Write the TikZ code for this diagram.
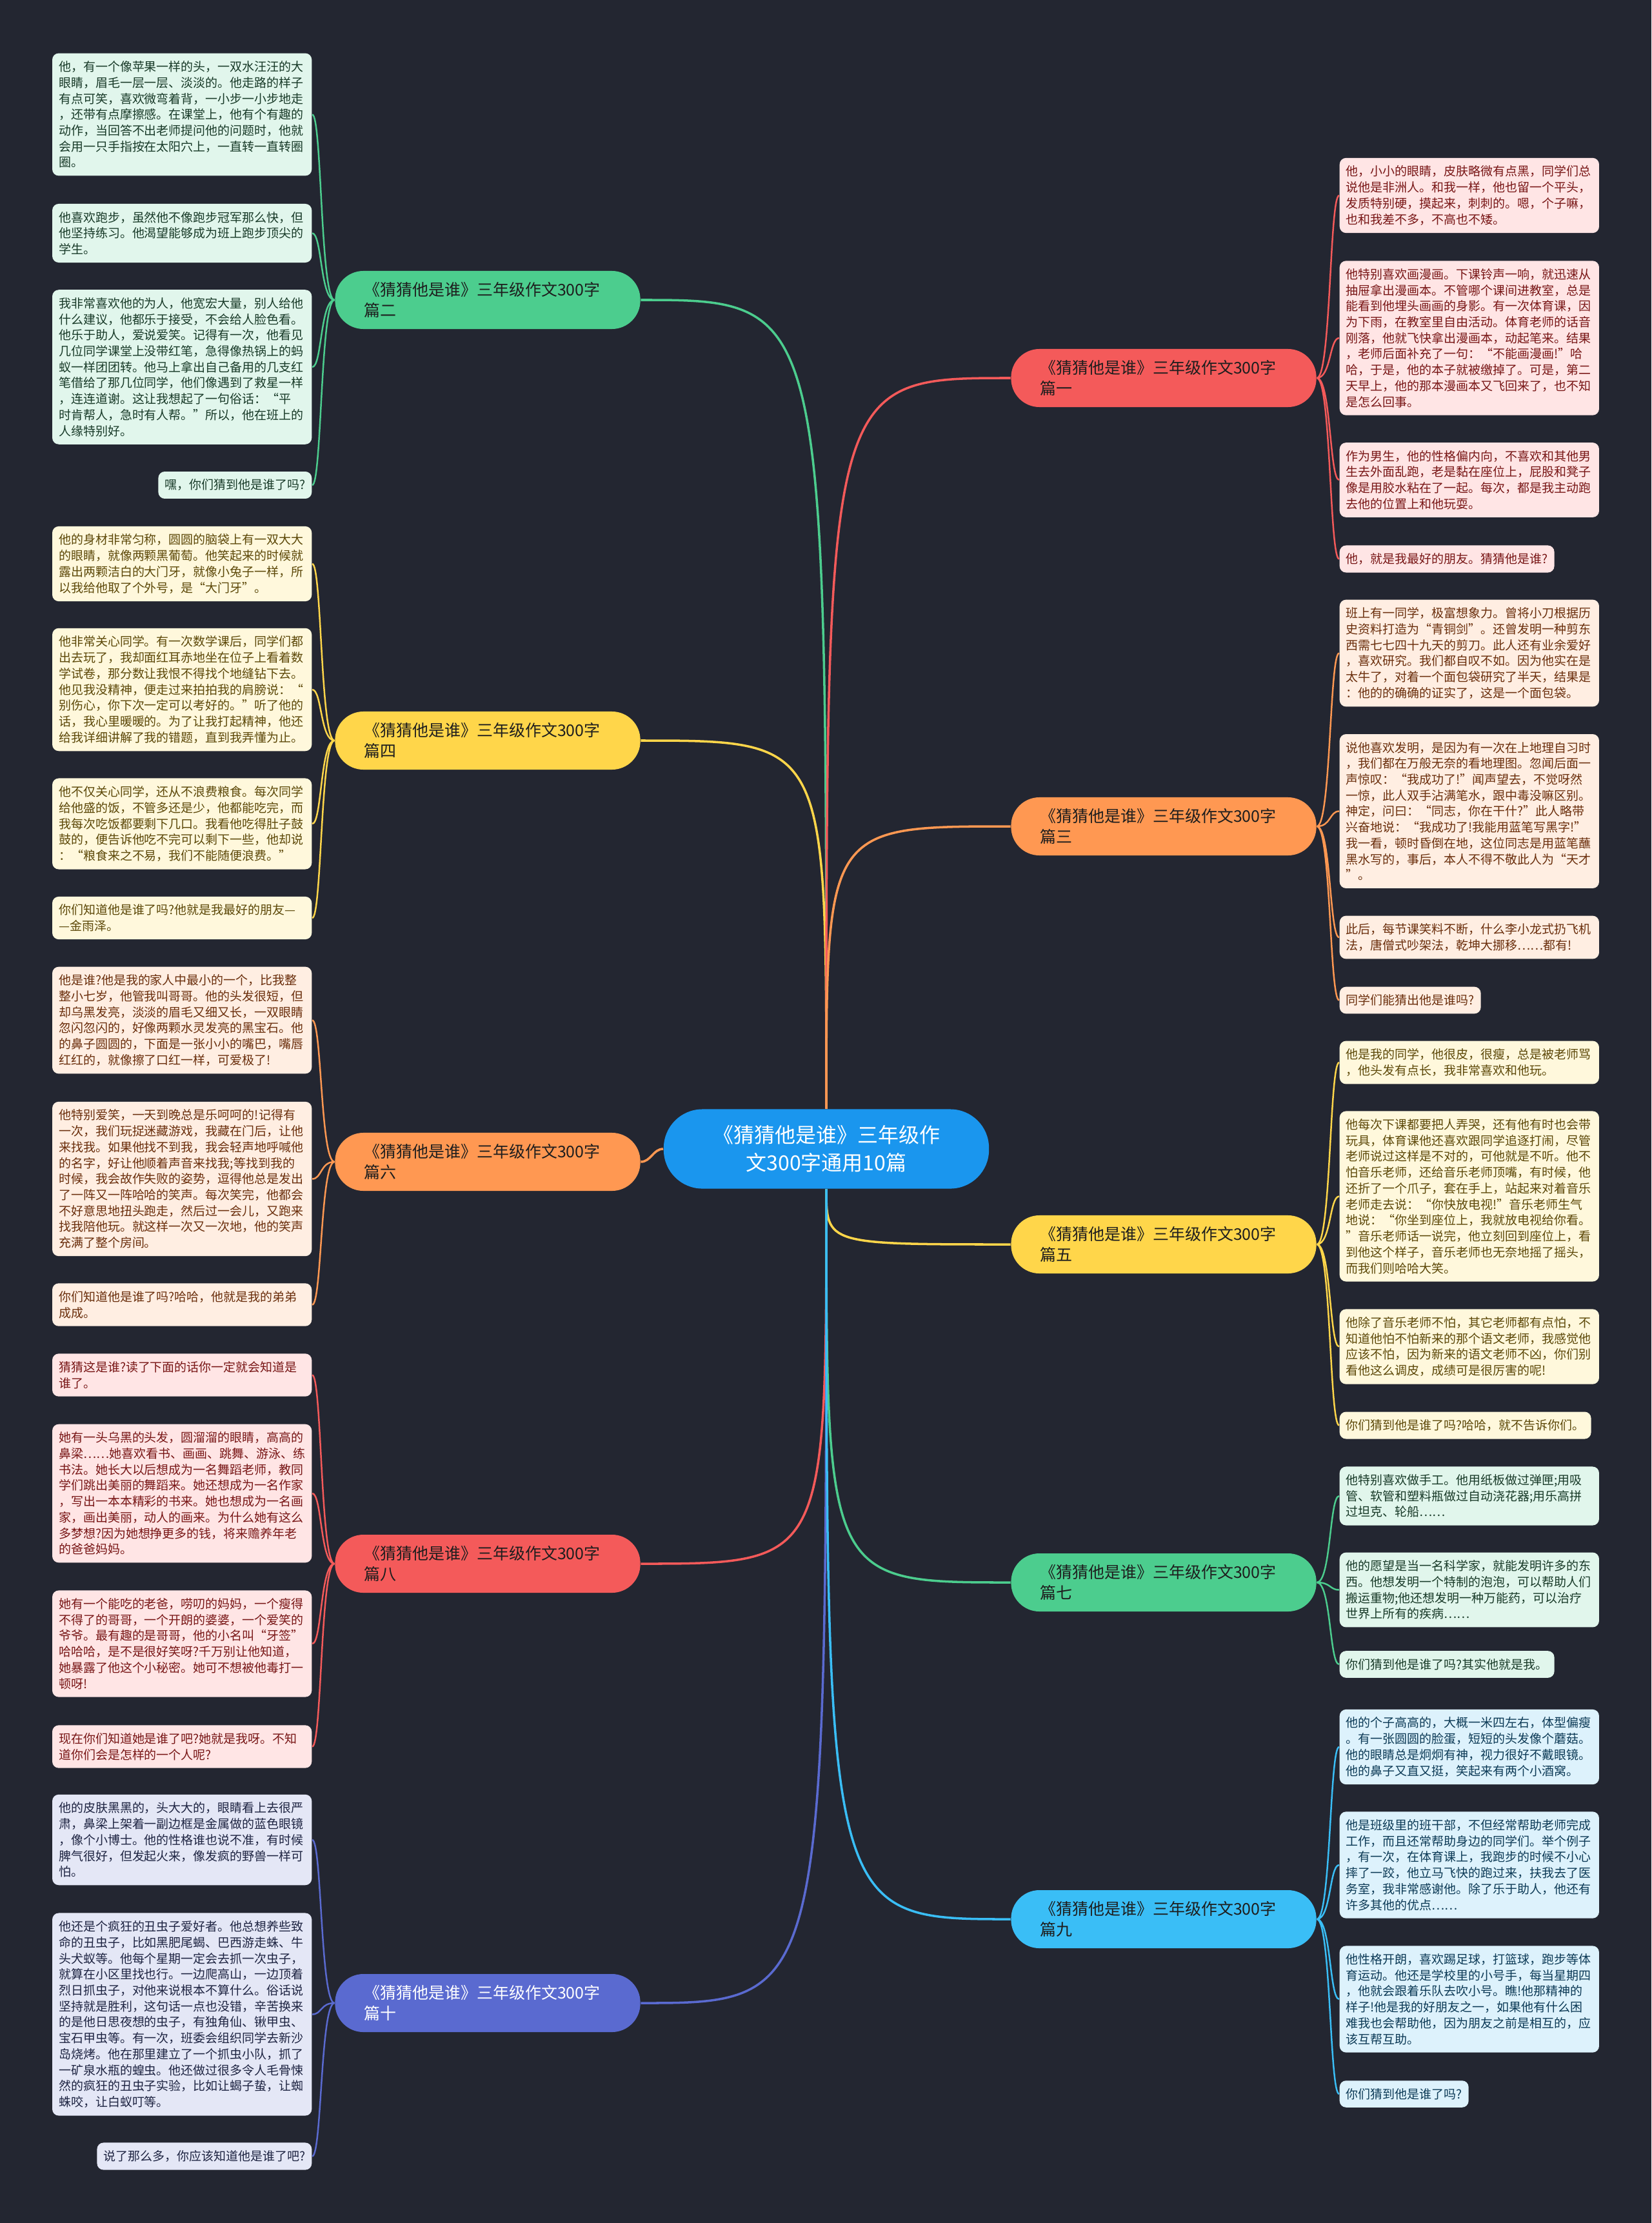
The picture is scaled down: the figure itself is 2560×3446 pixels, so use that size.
\documentclass[tikz,border=0pt]{standalone}
\usepackage{xcolor}
\usepackage{fontspec}
\newfontfamily\cjk{Noto Sans CJK SC}
\usepackage{tikz}

\definecolor{bgdark}{RGB}{35,38,49}
\definecolor{croot}{RGB}{26,150,238}
\definecolor{topictext}{RGB}{30,30,30}
\definecolor{cgreen}{RGB}{76,205,142}
\definecolor{fgreen}{RGB}{225,246,236}
\definecolor{tgreen}{RGB}{24,58,40}
\definecolor{cyellow}{RGB}{255,214,74}
\definecolor{fyellow}{RGB}{255,248,220}
\definecolor{tyellow}{RGB}{92,72,8}
\definecolor{corange}{RGB}{255,152,82}
\definecolor{forange}{RGB}{255,238,226}
\definecolor{torange}{RGB}{106,46,12}
\definecolor{cred}{RGB}{244,90,90}
\definecolor{fred}{RGB}{255,229,229}
\definecolor{tred}{RGB}{120,22,22}
\definecolor{cindigo}{RGB}{90,106,208}
\definecolor{findigo}{RGB}{228,231,246}
\definecolor{tindigo}{RGB}{30,36,66}
\definecolor{csky}{RGB}{58,190,246}
\definecolor{fsky}{RGB}{221,242,252}
\definecolor{tsky}{RGB}{12,58,86}

\begin{document}
\begin{tikzpicture}[
    x=0.01cm,
    y=-0.01cm,
    rootbox/.style={
        rectangle,
        fill=croot,
        rounded corners=0.6cm,
        align=center,
        minimum width=5.04cm,
        minimum height=1.23cm,
        text=white,
        font=\cjk\fontsize{9.1}{12.2}\selectfont
    },
    topicbox/.style={
        rectangle,
        rounded corners=0.44cm,
        align=left,
        text width=3.83cm,
        minimum height=0.9cm,
        inner xsep=0.45cm,
        inner ysep=0.05cm,
        text=topictext,
        font=\cjk\fontsize{7.1}{9.0}\selectfont
    },
    leafbox/.style={
        rectangle,
        rounded corners=0.1cm,
        align=left,
        inner xsep=0.1cm,
        inner ysep=0.12cm,
        font=\cjk\fontsize{5.4}{7.03}\selectfont
    },
    leafwide/.style={
        leafbox,
        text width=3.82cm
    },
    greenleaf/.style={fill=fgreen, text=tgreen},
    yellowleaf/.style={fill=fyellow, text=tyellow},
    orangeleaf/.style={fill=forange, text=torange},
    redleaf/.style={fill=fred, text=tred},
    indigoleaf/.style={fill=findigo, text=tindigo},
    skyleaf/.style={fill=fsky, text=tsky},
    mainline/.style={
        line width=1pt
    },
    leafline/.style={
        line width=0.7pt
    },
    lto/.style={
        to path={.. controls ([xshift=-0.22cm]\tikztostart) and ([xshift=0.15cm]\tikztotarget) .. (\tikztotarget)}
    },
    rto/.style={
        to path={.. controls ([xshift=0.22cm]\tikztostart) and ([xshift=-0.15cm]\tikztotarget) .. (\tikztotarget)}
    }
]

\useasboundingbox (0,0) rectangle (2560,3446);
\fill[bgdark] (0,0) rectangle (2560,3446);

\node[rootbox] (root) at (1281,1781)
{《猜猜他是谁》三年级作\\文300字通用10篇};

\node[topicbox, fill=cgreen] (b2) at (756,465) {《猜猜他是谁》三年级作文300字\\篇二};
\node[topicbox, fill=cyellow] (b4) at (756,1148) {《猜猜他是谁》三年级作文300字\\篇四};
\node[topicbox, fill=corange] (b6) at (756,1801) {《猜猜他是谁》三年级作文300字\\篇六};
\node[topicbox, fill=cred] (b8) at (756,2424) {《猜猜他是谁》三年级作文300字\\篇八};
\node[topicbox, fill=cindigo, text=white] (b10) at (756,3105) {《猜猜他是谁》三年级作文300字\\篇十};

\node[topicbox, fill=cred] (b1) at (1804,586) {《猜猜他是谁》三年级作文300字\\篇一};
\node[topicbox, fill=corange] (b3) at (1804,1281) {《猜猜他是谁》三年级作文300字\\篇三};
\node[topicbox, fill=cyellow] (b5) at (1804,1929) {《猜猜他是谁》三年级作文300字\\篇五};
\node[topicbox, fill=cgreen] (b7) at (1804,2453) {《猜猜他是谁》三年级作文300字\\篇七};
\node[topicbox, fill=csky] (b9) at (1804,2975) {《猜猜他是谁》三年级作文300字\\篇九};

\node[leafwide, greenleaf, anchor=east] (l2a) at (484,177.5)
{他，有一个像苹果一样的头，一双水汪汪的大\\眼睛，眉毛一层一层、淡淡的。他走路的样子\\有点可笑，喜欢微弯着背，一小步一小步地走\\，还带有点摩擦感。在课堂上，他有个有趣的\\动作，当回答不出老师提问他的问题时，他就\\会用一只手指按在太阳穴上，一直转一直转圈\\圈。};
\node[leafwide, greenleaf, anchor=east] (l2b) at (484,361.5)
{他喜欢跑步，虽然他不像跑步冠军那么快，但\\他坚持练习。他渴望能够成为班上跑步顶尖的\\学生。};
\node[leafwide, greenleaf, anchor=east] (l2c) at (484,569)
{我非常喜欢他的为人，他宽宏大量，别人给他\\什么建议，他都乐于接受，不会给人脸色看。\\他乐于助人，爱说爱笑。记得有一次，他看见\\几位同学课堂上没带红笔，急得像热锅上的蚂\\蚁一样团团转。他马上拿出自己备用的几支红\\笔借给了那几位同学，他们像遇到了救星一样\\，连连道谢。这让我想起了一句俗话：“平\\时肯帮人，急时有人帮。”所以，他在班上的\\人缘特别好。};
\node[leafbox, greenleaf, anchor=east] (l2d) at (484,752)
{嘿，你们猜到他是谁了吗?};

\node[leafwide, yellowleaf, anchor=east] (l4a) at (484,874)
{他的身材非常匀称，圆圆的脑袋上有一双大大\\的眼睛，就像两颗黑葡萄。他笑起来的时候就\\露出两颗洁白的大门牙，就像小兔子一样，所\\以我给他取了个外号，是“大门牙”。};
\node[leafwide, yellowleaf, anchor=east] (l4b) at (484,1069)
{他非常关心同学。有一次数学课后，同学们都\\出去玩了，我却面红耳赤地坐在位子上看着数\\学试卷，那分数让我恨不得找个地缝钻下去。\\他见我没精神，便走过来拍拍我的肩膀说：“\\别伤心，你下次一定可以考好的。”听了他的\\话，我心里暖暖的。为了让我打起精神，他还\\给我详细讲解了我的错题，直到我弄懂为止。};
\node[leafwide, yellowleaf, anchor=east] (l4c) at (484,1277)
{他不仅关心同学，还从不浪费粮食。每次同学\\给他盛的饭，不管多还是少，他都能吃完，而\\我每次吃饭都要剩下几口。我看他吃得肚子鼓\\鼓的，便告诉他吃不完可以剩下一些，他却说\\：“粮食来之不易，我们不能随便浪费。”};
\node[leafwide, yellowleaf, anchor=east] (l4d) at (484,1423)
{你们知道他是谁了吗?他就是我最好的朋友—\\—金雨泽。};

\node[leafwide, orangeleaf, anchor=east] (l6a) at (484,1581.5)
{他是谁?他是我的家人中最小的一个，比我整\\整小七岁，他管我叫哥哥。他的头发很短，但\\却乌黑发亮，淡淡的眉毛又细又长，一双眼睛\\忽闪忽闪的，好像两颗水灵发亮的黑宝石。他\\的鼻子圆圆的，下面是一张小小的嘴巴，嘴唇\\红红的，就像擦了口红一样，可爱极了!};
\node[leafwide, orangeleaf, anchor=east] (l6b) at (484,1827.5)
{他特别爱笑，一天到晚总是乐呵呵的!记得有\\一次，我们玩捉迷藏游戏，我藏在门后，让他\\来找我。如果他找不到我，我会轻声地呼喊他\\的名字，好让他顺着声音来找我;等找到我的\\时候，我会故作失败的姿势，逗得他总是发出\\了一阵又一阵哈哈的笑声。每次笑完，他都会\\不好意思地扭头跑走，然后过一会儿，又跑来\\找我陪他玩。就这样一次又一次地，他的笑声\\充满了整个房间。};
\node[leafwide, orangeleaf, anchor=east] (l6c) at (484,2022.5)
{你们知道他是谁了吗?哈哈，他就是我的弟弟\\成成。};

\node[leafwide, redleaf, anchor=east] (l8a) at (484,2131.5)
{猜猜这是谁?读了下面的话你一定就会知道是\\谁了。};
\node[leafwide, redleaf, anchor=east] (l8b) at (484,2315)
{她有一头乌黑的头发，圆溜溜的眼睛，高高的\\鼻梁……她喜欢看书、画画、跳舞、游泳、练\\书法。她长大以后想成为一名舞蹈老师，教同\\学们跳出美丽的舞蹈来。她还想成为一名作家\\，写出一本本精彩的书来。她也想成为一名画\\家，画出美丽，动人的画来。为什么她有这么\\多梦想?因为她想挣更多的钱，将来赡养年老\\的爸爸妈妈。};
\node[leafwide, redleaf, anchor=east] (l8c) at (484,2548)
{她有一个能吃的老爸，唠叨的妈妈，一个瘦得\\不得了的哥哥，一个开朗的婆婆，一个爱笑的\\爷爷。最有趣的是哥哥，他的小名叫“牙签”\\哈哈哈，是不是很好笑呀?千万别让他知道，\\她暴露了他这个小秘密。她可不想被他毒打一\\顿呀!};
\node[leafwide, redleaf, anchor=east] (l8d) at (484,2707.5)
{现在你们知道她是谁了吧?她就是我呀。不知\\道你们会是怎样的一个人呢?};

\node[leafwide, indigoleaf, anchor=east] (l10a) at (484,2852)
{他的皮肤黑黑的，头大大的，眼睛看上去很严\\肃，鼻梁上架着一副边框是金属做的蓝色眼镜\\，像个小博士。他的性格谁也说不准，有时候\\脾气很好，但发起火来，像发疯的野兽一样可\\怕。};
\node[leafwide, indigoleaf, anchor=east] (l10b) at (484,3122.5)
{他还是个疯狂的丑虫子爱好者。他总想养些致\\命的丑虫子，比如黑肥尾蝎、巴西游走蛛、牛\\头犬蚁等。他每个星期一定会去抓一次虫子，\\就算在小区里找也行。一边爬高山，一边顶着\\烈日抓虫子，对他来说根本不算什么。俗话说\\坚持就是胜利，这句话一点也没错，辛苦换来\\的是他日思夜想的虫子，有独角仙、锹甲虫、\\宝石甲虫等。有一次，班委会组织同学去新沙\\岛烧烤。他在那里建立了一个抓虫小队，抓了\\一矿泉水瓶的蝗虫。他还做过很多令人毛骨悚\\然的疯狂的丑虫子实验，比如让蝎子蛰，让蜘\\蛛咬，让白蚁叮等。};
\node[leafbox, indigoleaf, anchor=east] (l10c) at (484,3342.5)
{说了那么多，你应该知道他是谁了吧?};

\node[leafwide, redleaf, anchor=west] (r1a) at (2076,303)
{他，小小的眼睛，皮肤略微有点黑，同学们总\\说他是非洲人。和我一样，他也留一个平头，\\发质特别硬，摸起来，刺刺的。嗯，个子嘛，\\也和我差不多，不高也不矮。};
\node[leafwide, redleaf, anchor=west] (r1b) at (2076,524)
{他特别喜欢画漫画。下课铃声一响，就迅速从\\抽屉拿出漫画本。不管哪个课间进教室，总是\\能看到他埋头画画的身影。有一次体育课，因\\为下雨，在教室里自由活动。体育老师的话音\\刚落，他就飞快拿出漫画本，动起笔来。结果\\，老师后面补充了一句：“不能画漫画!”哈\\哈，于是，他的本子就被缴掉了。可是，第二\\天早上，他的那本漫画本又飞回来了，也不知\\是怎么回事。};
\node[leafwide, redleaf, anchor=west] (r1c) at (2076,744)
{作为男生，他的性格偏内向，不喜欢和其他男\\生去外面乱跑，老是黏在座位上，屁股和凳子\\像是用胶水粘在了一起。每次，都是我主动跑\\去他的位置上和他玩耍。};
\node[leafbox, redleaf, anchor=west] (r1d) at (2076,866.5)
{他，就是我最好的朋友。猜猜他是谁?};

\node[leafwide, orangeleaf, anchor=west] (r3a) at (2076,1012.5)
{班上有一同学，极富想象力。曾将小刀根据历\\史资料打造为“青铜剑”。还曾发明一种剪东\\西需七七四十九天的剪刀。此人还有业余爱好\\，喜欢研究。我们都自叹不如。因为他实在是\\太牛了，对着一个面包袋研究了半天，结果是\\：他的的确确的证实了，这是一个面包袋。};
\node[leafwide, orangeleaf, anchor=west] (r3b) at (2076,1257.5)
{说他喜欢发明，是因为有一次在上地理自习时\\，我们都在万般无奈的看地理图。忽闻后面一\\声惊叹：“我成功了!”闻声望去，不觉呀然\\一惊，此人双手沾满笔水，跟中毒没嘛区别。\\神定，问曰：“同志，你在干什?”此人略带\\兴奋地说：“我成功了!我能用蓝笔写黑字!”\\我一看，顿时昏倒在地，这位同志是用蓝笔蘸\\黑水写的，事后，本人不得不敬此人为“天才\\”。};
\node[leafwide, orangeleaf, anchor=west] (r3c) at (2076,1453)
{此后，每节课笑料不断，什么李小龙式扔飞机\\法，唐僧式吵架法，乾坤大挪移……都有!};
\node[leafbox, orangeleaf, anchor=west] (r3d) at (2076,1550.5)
{同学们能猜出他是谁吗?};

\node[leafwide, yellowleaf, anchor=west] (r5a) at (2076,1647)
{他是我的同学，他很皮，很瘦，总是被老师骂\\，他头发有点长，我非常喜欢和他玩。};
\node[leafwide, yellowleaf, anchor=west] (r5b) at (2076,1854.5)
{他每次下课都要把人弄哭，还有他有时也会带\\玩具，体育课他还喜欢跟同学追逐打闹，尽管\\老师说过这样是不对的，可他就是不听。他不\\怕音乐老师，还给音乐老师顶嘴，有时候，他\\还折了一个爪子，套在手上，站起来对着音乐\\老师走去说：“你快放电视!”音乐老师生气\\地说：“你坐到座位上，我就放电视给你看。\\”音乐老师话一说完，他立刻回到座位上，看\\到他这个样子，音乐老师也无奈地摇了摇头，\\而我们则哈哈大笑。};
\node[leafwide, yellowleaf, anchor=west] (r5c) at (2076,2087.5)
{他除了音乐老师不怕，其它老师都有点怕，不\\知道他怕不怕新来的那个语文老师，我感觉他\\应该不怕，因为新来的语文老师不凶，你们别\\看他这么调皮，成绩可是很厉害的呢!};
\node[leafbox, yellowleaf, anchor=west] (r5d) at (2076,2209.5)
{你们猜到他是谁了吗?哈哈，就不告诉你们。};

\node[leafwide, greenleaf, anchor=west] (r7a) at (2076,2319)
{他特别喜欢做手工。他用纸板做过弹匣;用吸\\管、软管和塑料瓶做过自动浇花器;用乐高拼\\过坦克、轮船……};
\node[leafwide, greenleaf, anchor=west] (r7b) at (2076,2464.5)
{他的愿望是当一名科学家，就能发明许多的东\\西。他想发明一个特制的泡泡，可以帮助人们\\搬运重物;他还想发明一种万能药，可以治疗\\世界上所有的疾病……};
\node[leafbox, greenleaf, anchor=west] (r7c) at (2076,2580)
{你们猜到他是谁了吗?其实他就是我。};

\node[leafwide, skyleaf, anchor=west] (r9a) at (2076,2708)
{他的个子高高的，大概一米四左右，体型偏瘦\\。有一张圆圆的脸蛋，短短的头发像个蘑菇。\\他的眼睛总是炯炯有神，视力很好不戴眼镜。\\他的鼻子又直又挺，笑起来有两个小酒窝。};
\node[leafwide, skyleaf, anchor=west] (r9b) at (2076,2891)
{他是班级里的班干部，不但经常帮助老师完成\\工作，而且还常帮助身边的同学们。举个例子\\，有一次，在体育课上，我跑步的时候不小心\\摔了一跤，他立马飞快的跑过来，扶我去了医\\务室，我非常感谢他。除了乐于助人，他还有\\许多其他的优点……};
\node[leafwide, skyleaf, anchor=west] (r9c) at (2076,3099)
{他性格开朗，喜欢踢足球，打篮球，跑步等体\\育运动。他还是学校里的小号手，每当星期四\\，他就会跟着乐队去吹小号。瞧!他那精神的\\样子!他是我的好朋友之一，如果他有什么困\\难我也会帮助他，因为朋友之前是相互的，应\\该互帮互助。};
\node[leafbox, skyleaf, anchor=west] (r9d) at (2076,3246)
{你们猜到他是谁了吗?};

\draw[mainline, cgreen] (root.north) .. controls (root.north |- b2.east) .. (b2.east);
\draw[mainline, cyellow] (root.north) .. controls (root.north |- b4.east) .. (b4.east);
\draw[mainline, corange] (root.west) to[out=180, in=0] (b6.east);
\draw[mainline, cred] (root.south) .. controls (root.south |- b8.east) .. (b8.east);
\draw[mainline, cindigo] (root.south) .. controls (root.south |- b10.east) .. (b10.east);
\draw[mainline, cred] (root.north) .. controls (root.north |- b1.west) .. (b1.west);
\draw[mainline, corange] (root.north) .. controls (root.north |- b3.west) .. (b3.west);
\draw[mainline, cyellow] (root.south) .. controls (root.south |- b5.west) .. (b5.west);
\draw[mainline, cgreen] (root.south) .. controls (root.south |- b7.west) .. (b7.west);
\draw[mainline, csky] (root.south) .. controls (root.south |- b9.west) .. (b9.west);

\draw[leafline, cgreen] (b2.west) to[lto] (l2a.east) (b2.west) to[lto] (l2b.east) (b2.west) to[lto] (l2c.east) (b2.west) to[lto] (l2d.east);
\draw[leafline, cyellow] (b4.west) to[lto] (l4a.east) (b4.west) to[lto] (l4b.east) (b4.west) to[lto] (l4c.east) (b4.west) to[lto] (l4d.east);
\draw[leafline, corange] (b6.west) to[lto] (l6a.east) (b6.west) to[lto] (l6b.east) (b6.west) to[lto] (l6c.east);
\draw[leafline, cred] (b8.west) to[lto] (l8a.east) (b8.west) to[lto] (l8b.east) (b8.west) to[lto] (l8c.east) (b8.west) to[lto] (l8d.east);
\draw[leafline, cindigo] (b10.west) to[lto] (l10a.east) (b10.west) to[lto] (l10b.east) (b10.west) to[lto] (l10c.east);

\draw[leafline, cred] (b1.east) to[rto] (r1a.west) (b1.east) to[rto] (r1b.west) (b1.east) to[rto] (r1c.west) (b1.east) to[rto] (r1d.west);
\draw[leafline, corange] (b3.east) to[rto] (r3a.west) (b3.east) to[rto] (r3b.west) (b3.east) to[rto] (r3c.west) (b3.east) to[rto] (r3d.west);
\draw[leafline, cyellow] (b5.east) to[rto] (r5a.west) (b5.east) to[rto] (r5b.west) (b5.east) to[rto] (r5c.west) (b5.east) to[rto] (r5d.west);
\draw[leafline, cgreen] (b7.east) to[rto] (r7a.west) (b7.east) to[rto] (r7b.west) (b7.east) to[rto] (r7c.west);
\draw[leafline, csky] (b9.east) to[rto] (r9a.west) (b9.east) to[rto] (r9b.west) (b9.east) to[rto] (r9c.west) (b9.east) to[rto] (r9d.west);

\end{tikzpicture}
\end{document}
